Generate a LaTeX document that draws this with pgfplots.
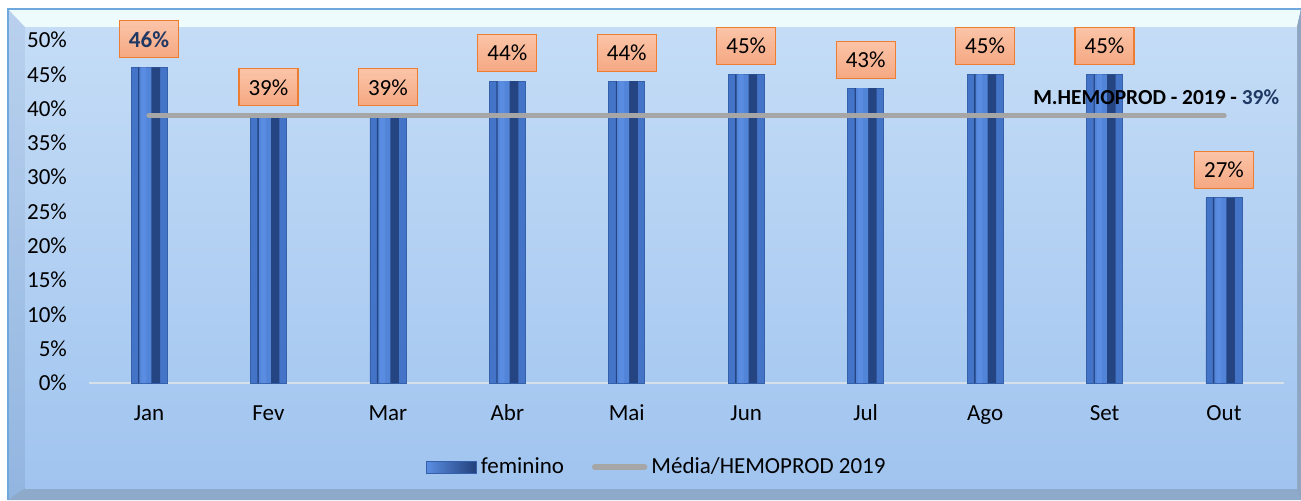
\documentclass[border=0pt]{standalone}
\usepackage{fontspec}
\setmainfont{Carlito}
\usepackage{pgfplots}
\pgfplotsset{compat=1.18}

\definecolor{faceTop}{HTML}{C4DCF6}
\definecolor{faceBot}{HTML}{A0C4EF}
\definecolor{bevTop}{HTML}{EEFBFD}
\definecolor{bevLeftT}{HTML}{B9D1EE}
\definecolor{bevLeftB}{HTML}{92B5E0}
\definecolor{bevBot}{HTML}{8DAACB}
\definecolor{bevRight}{HTML}{8EA6C2}
\definecolor{frameLine}{HTML}{6FA8DC}
\definecolor{axisLine}{HTML}{D6E0EA}
\definecolor{barOuter}{HTML}{4474C8}
\definecolor{barEdge}{HTML}{3560AA}
\definecolor{barMid}{HTML}{3460AE}
\definecolor{barLight}{HTML}{5A8DE2}
\definecolor{barDark}{HTML}{22407A}
\definecolor{meanGray}{HTML}{A6A6A6}
\definecolor{boxTop}{HTML}{FBC4A8}
\definecolor{boxBot}{HTML}{F5A882}
\definecolor{boxEdge}{HTML}{ED7D31}
\definecolor{darkBlue}{HTML}{1F3864}

\pgfplotstableread{
x  y
0  46
1  39
2  39
3  44
4  44
5  45
6  43
7  45
8  45
9  27
}\feminino

\begin{document}
\begin{tikzpicture}
\fill[white] (0,0) rectangle (650.5pt,250pt);
% chart frame, drawn in pixel units of the reference
\begin{scope}[x=0.5pt,y=-0.5pt,shift={(0pt,250pt)}]
  \fill[bevBot] (8,9) rectangle (1301,500);
  \shade[top color=bevLeftT, bottom color=bevLeftB] (8,9) -- (25,27) -- (25,488) -- (8,500) -- cycle;
  \fill[bevTop] (8,9) -- (1301,9) -- (1297,27) -- (25,27) -- cycle;
  \fill[bevBot] (8,500) -- (25,488) -- (1297,488) -- (1301,500) -- cycle;
  \fill[bevRight] (1301,9) -- (1297,27) -- (1297,488) -- (1301,500) -- cycle;
  \shade[top color=faceTop, bottom color=faceBot] (25,27) rectangle (1297,488);
  \draw[frameLine, line width=0.6pt] (8,500) -- (8,9) -- (1301,9);
\end{scope}

\begin{axis}[
    at={(44.65pt,58.5pt)}, anchor=south west,
    scale only axis,
    width=597.2pt, height=171.5pt,
    xmin=-0.5, xmax=9.5, ymin=0, ymax=50,
    clip=false,
    axis lines*=left,
    axis line style={-},
    y axis line style={draw=none},
    x axis line style={draw=axisLine, line width=1pt},
    major tick length=0pt,
    xtick={0,...,9},
    xticklabels={Jan,Fev,Mar,Abr,Mai,Jun,Jul,Ago,Set,Out},
    ytick={0,5,...,50},
    yticklabel={\pgfmathprintnumber{\tick}\%},
    /pgf/number format/assume math mode=true,
    tick label style={font=\fontsize{11.5}{13}\selectfont},
    xticklabel style={anchor=base, yshift=-18.5pt},
    yticklabel style={anchor=east, inner sep=0pt, xshift=-11pt},
    legend columns=2,
    legend style={at={(0.476,-0.245)}, anchor=center, draw=none, fill=none,
        font=\fontsize{11.5}{13}\selectfont,
        /tikz/every even column/.append style={column sep=12pt}},
]
\addplot[ybar, bar width=18pt, bar shift=0pt, fill=barOuter, draw=barEdge,
    point meta=explicit symbolic,
    nodes near coords,
    nodes near coords style={anchor=south, yshift=4.5pt, draw=boxEdge,
        top color=boxTop, bottom color=boxBot, line width=0.6pt,
        minimum width=29.5pt, minimum height=18.5pt, inner sep=1pt,
        font=\fontsize{11.5}{13}\selectfont, text=black},
    legend image code/.code={
        \shade[left color=barLight, right color=barDark, draw=barEdge]
            (0pt,-3pt) rectangle (25pt,3pt);}]
coordinates {
    (0,46) [\textbf{\color{darkBlue}46\%}]
    (1,39) [39\%]
    (2,39) [39\%]
    (3,44) [44\%]
    (4,44) [44\%]
    (5,45) [45\%]
    (6,43) [43\%]
    (7,45) [45\%]
    (8,45) [45\%]
    (9,27) [27\%]
};
\addlegendentry{feminino}
% bevelled look of the columns: darker inner panel with a lighter left strip
\addplot[ybar, bar width=11pt, bar shift=0pt, draw=none, fill=barDark!85!barMid, forget plot]
    table[x=x, y=y] {\feminino};
\addplot[ybar, bar width=6pt, bar shift=-1.8pt, draw=none, fill=barLight!80!barMid, forget plot]
    table[x=x, y=y] {\feminino};
\addplot[ybar, bar width=2.5pt, bar shift=-2.6pt, draw=none, fill=barLight, forget plot]
    table[x=x, y=y] {\feminino};
\addplot[meanGray, line width=2.7pt, line cap=round, mark=none,
    legend image code/.code={
        \draw[meanGray, line width=2.7pt, line cap=round] (0pt,0pt) -- (25pt,0pt);}]
coordinates {(0,39) (9,39)};
\addlegendentry{Média/HEMOPROD 2019}
\node[anchor=west, font=\bfseries\fontsize{10.7}{12}\selectfont, inner sep=0pt]
    at (axis cs:7.4,41.7) {M.HEMOPROD - 2019 - \textcolor{darkBlue}{39\%}};
\end{axis}
\pgfresetboundingbox
\useasboundingbox (0,0) rectangle (650.5pt,250pt);
\end{tikzpicture}
\end{document}
